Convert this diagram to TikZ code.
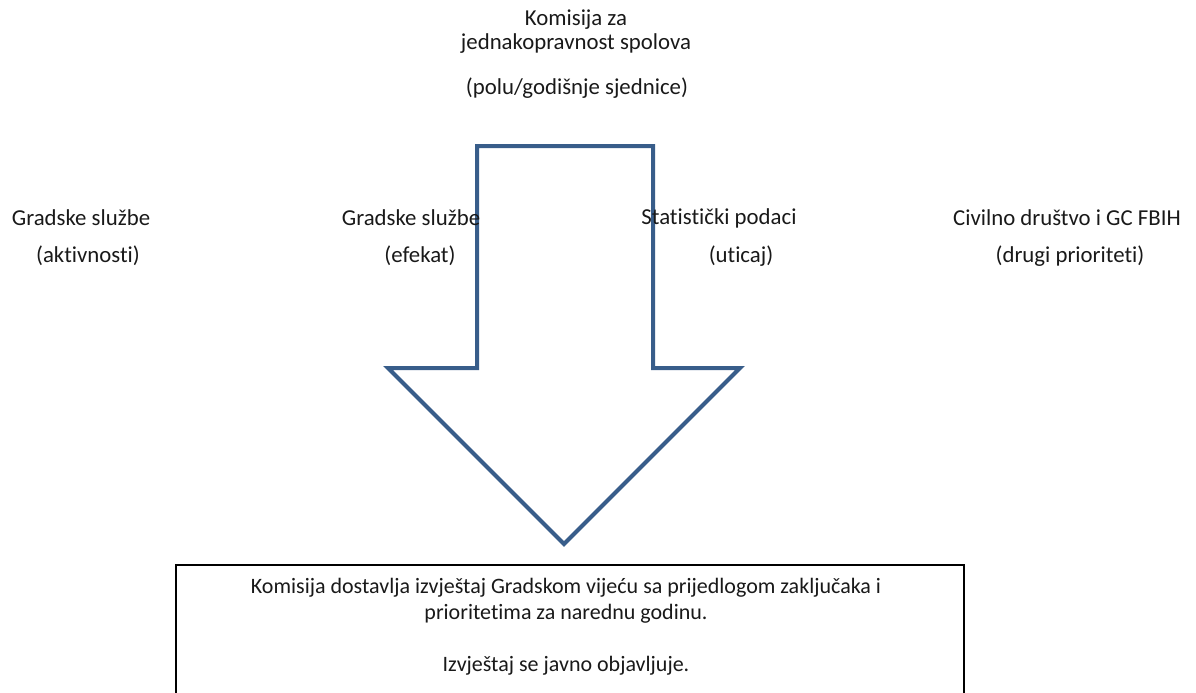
\documentclass[tikz,border=0pt]{standalone}
\usepackage{fontspec}
\setmainfont{Carlito}[Ligatures=NoCommon]
\definecolor{arrowblue}{RGB}{56,93,138}
\tikzset{
  lbl/.style={inner sep=0pt, anchor=center, font=\fontsize{11.4pt}{13pt}\selectfont, text=black!90},
  boxtxt/.style={inner sep=0pt, anchor=center, font=\fontsize{11pt}{13pt}\selectfont, text=black!90},
  bigarrow/.style={draw=arrowblue, line width=2pt, fill=white, line join=miter},
  outbox/.style={draw=black, line width=0.9pt}
}
\begin{document}
\begin{tikzpicture}[x=0.5pt,y=-0.5pt]
\useasboundingbox (0,0) rectangle (1196,692);
% arrow
\draw[bigarrow] (477,146) -- (653,146) -- (653,368) -- (740,368) -- (564,544) -- (388,368) -- (477,368) -- cycle;
% top texts
\node[lbl] (t1) at (576,20) {Komisija za};
\node[lbl] (t2) at (576,44) {jednakopravnost spolova};
\node[lbl] (t3) at (577,88) {(polu/godišnje sjednice)};
% four labels
\node[lbl] (a1) at (81,218) {Gradske službe};
\node[lbl] (a2) at (88,256) {(aktivnosti)};
\node[lbl] (b1) at (411,218) {Gradske službe};
\node[lbl] (b2) at (420,256) {(efekat)};
\node[lbl] (c1) at (719,218) {Statistički podaci};
\node[lbl] (c2) at (741,256) {(uticaj)};
\node[lbl] (d1) at (1067,218) {Civilno društvo i GC FBIH};
\node[lbl] (d2) at (1070,256) {(drugi prioriteti)};
% bottom box
\draw[outbox] (176,565) rectangle (964,700);
\node[boxtxt] (e1) at (566,588) {Komisija dostavlja izvještaj Gradskom vijeću sa prijedlogom zaključaka i};
\node[boxtxt] (e2) at (566,614) {prioritetima za narednu godinu.};
\node[boxtxt] (e3) at (566,666) {Izvještaj se javno objavljuje.};
\end{tikzpicture}
\end{document}
